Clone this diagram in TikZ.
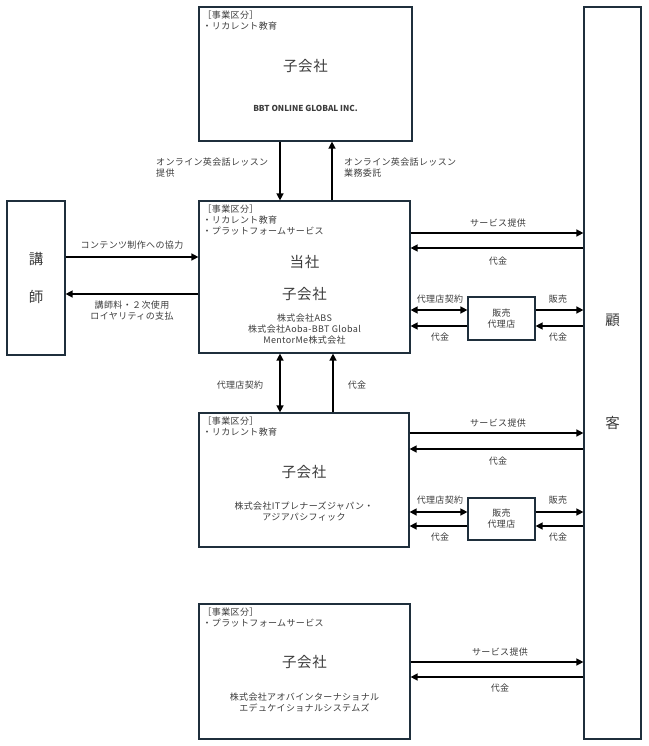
\documentclass[tikz,border=0pt]{standalone}
\usepackage{fontspec}
\setmainfont{Noto Sans CJK JP}
\newfontfamily\jp[LetterSpace=4]{Noto Sans CJK JP}
\usetikzlibrary{arrows.meta}

\definecolor{boxline}{HTML}{1F2F3C}
\definecolor{txtgray}{HTML}{3C3C3C}

\newcommand{\smalljp}{\jp\fontsize{9}{11}\selectfont}
\newcommand{\bigjp}{\jp\fontsize{14.5}{17}\selectfont}

\tikzset{
  box/.style={draw=boxline, line width=1.2pt, rectangle, inner sep=0pt, fill=white},
  lbl/.style={text=txtgray, font=\smalljp, inner sep=0pt, align=center},
  seg/.style={text=txtgray, font=\smalljp, inner sep=0pt, align=left, anchor=north west},
  big/.style={text=txtgray, font=\bigjp, inner sep=0pt},
  flow/.style={-{Triangle[length=7pt,width=7pt]}, line width=1.4pt},
  both/.style={{Triangle[length=7pt,width=7pt]}-{Triangle[length=7pt,width=7pt]}, line width=1.4pt},
}

\begin{document}
\begin{tikzpicture}[x=1pt, y=-1pt]
  \useasboundingbox (0,0) rectangle (648,746);

  % 枠
  \node[box, minimum width=213pt, minimum height=134pt] (top) at (305.5,74) {};
  \node[box, minimum width=211pt, minimum height=152pt] (hq) at (304.5,277) {};
  \node[box, minimum width=58pt, minimum height=154pt] (teacher) at (36,278) {};
  \node[box, minimum width=210pt, minimum height=134pt] (mid) at (304,480) {};
  \node[box, minimum width=211pt, minimum height=135pt] (bot) at (304.5,671.5) {};
  \node[box, minimum width=57pt, minimum height=732pt] (cust) at (612.5,373) {};
  \node[box, minimum width=67pt, minimum height=43pt, text=txtgray, font=\smalljp, align=center] (ag1) at (501.5,318.5) {販売\\代理店};
  \node[box, minimum width=67pt, minimum height=42pt, text=txtgray, font=\smalljp, align=center] (ag2) at (501.5,519) {販売\\代理店};

  % 上の子会社
  \node[seg] (topseg) at ([shift={(4pt,-4pt)}]top.north west) {［事業区分］\\・リカレント教育};
  \node[big] (topname) at (305.5,66) {子会社};
  \node[text=txtgray, font=\fontsize{8.2}{10}\selectfont\bfseries, inner sep=0pt] (topco) at (305.5,108) {BBT ONLINE GLOBAL INC.};

  % 当社
  \node[seg] (hqseg) at ([shift={(4pt,-4pt)}]hq.north west) {［事業区分］\\・リカレント教育\\・プラットフォームサービス};
  \node[big] (hqname) at (304.5,262) {当社};
  \node[big] (hqsub) at (304.5,294) {子会社};
  \node[lbl] (hqco) at (304.5,329) {株式会社ABS\\株式会社Aoba-BBT Global\\MentorMe株式会社};

  % 講師
  \node[big] (t1) at (36,259) {講};
  \node[big] (t2) at (36,297) {師};

  % 顧客
  \node[big] (c1) at (612.5,320) {顧};
  \node[big] (c2) at (612.5,423) {客};

  % 中の子会社
  \node[seg] (midseg) at ([shift={(4pt,-4pt)}]mid.north west) {［事業区分］\\・リカレント教育};
  \node[big] (midname) at (304,472) {子会社};
  \node[lbl] (midco) at (304,512) {株式会社ITプレナーズジャパン・\\アジアパシフィック};

  % 下の子会社
  \node[seg] (botseg) at ([shift={(4pt,-4pt)}]bot.north west) {［事業区分］\\・プラットフォームサービス};
  \node[big] (botname) at (304.5,662) {子会社};
  \node[lbl] (botco) at (304.5,702) {株式会社アオバインターナショナル\\エデュケイショナルシステムズ};

  % 上 <-> 当社
  \draw[flow] (top.south -| 280,0) -- (hq.north -| 280,0);
  \draw[flow] (hq.north -| 332,0) -- (top.south -| 332,0);
  \node[seg] (lesson1) at (156,158) {オンライン英会話レッスン\\提供};
  \node[seg] (lesson2) at (344,158) {オンライン英会話レッスン\\業務委託};

  % 講師 <-> 当社
  \draw[flow] (teacher.east |- 0,257) -- (hq.west |- 0,257);
  \draw[flow] (hq.west |- 0,294) -- (teacher.east |- 0,294);
  \node[lbl] (content) at (132,245) {コンテンツ制作への協力};
  \node[lbl] (royalty) at (132,311) {講師料・２次使用\\ロイヤリティの支払};

  % 当社 <-> 中
  \draw[both] (hq.south -| 280,0) -- (mid.north -| 280,0);
  \draw[flow] (mid.north -| 333,0) -- (hq.south -| 333,0);
  \node[lbl] (agc) at (240,385) {代理店契約};
  \node[lbl] (pay) at (357,385) {代金};

  % 当社 <-> 顧客
  \draw[flow] (hq.east |- 0,233) -- (cust.west |- 0,233);
  \draw[flow] (cust.west |- 0,248) -- (hq.east |- 0,248);
  \node[lbl] (svc1) at (498,223) {サービス提供};
  \node[lbl] (pay1) at (498,261) {代金};
  \draw[both] (hq.east |- 0,310) -- (ag1.west |- 0,310);
  \draw[flow] (ag1.west |- 0,326) -- (hq.east |- 0,326);
  \draw[flow] (ag1.east |- 0,310) -- (cust.west |- 0,310);
  \draw[flow] (cust.west |- 0,326) -- (ag1.east |- 0,326);
  \node[lbl] (agc1) at (440,299) {代理店契約};
  \node[lbl] (pay1a) at (440,337) {代金};
  \node[lbl] (sale1) at (558,299) {販売};
  \node[lbl] (pay1b) at (558,337) {代金};

  % 中 <-> 顧客
  \draw[flow] (mid.east |- 0,433) -- (cust.west |- 0,433);
  \draw[flow] (cust.west |- 0,449) -- (mid.east |- 0,449);
  \node[lbl] (svc2) at (498,423) {サービス提供};
  \node[lbl] (pay2) at (498,461) {代金};
  \draw[both] (mid.east |- 0,512) -- (ag2.west |- 0,512);
  \draw[flow] (ag2.west |- 0,526) -- (mid.east |- 0,526);
  \draw[flow] (ag2.east |- 0,512) -- (cust.west |- 0,512);
  \draw[flow] (cust.west |- 0,526) -- (ag2.east |- 0,526);
  \node[lbl] (agc2) at (440,500) {代理店契約};
  \node[lbl] (pay2a) at (440,537) {代金};
  \node[lbl] (sale2) at (558,500) {販売};
  \node[lbl] (pay2b) at (558,537) {代金};

  % 下 <-> 顧客
  \draw[flow] (bot.east |- 0,662) -- (cust.west |- 0,662);
  \draw[flow] (cust.west |- 0,677) -- (bot.east |- 0,677);
  \node[lbl] (svc3) at (500,652) {サービス提供};
  \node[lbl] (pay3) at (500,688) {代金};
\end{tikzpicture}
\end{document}
